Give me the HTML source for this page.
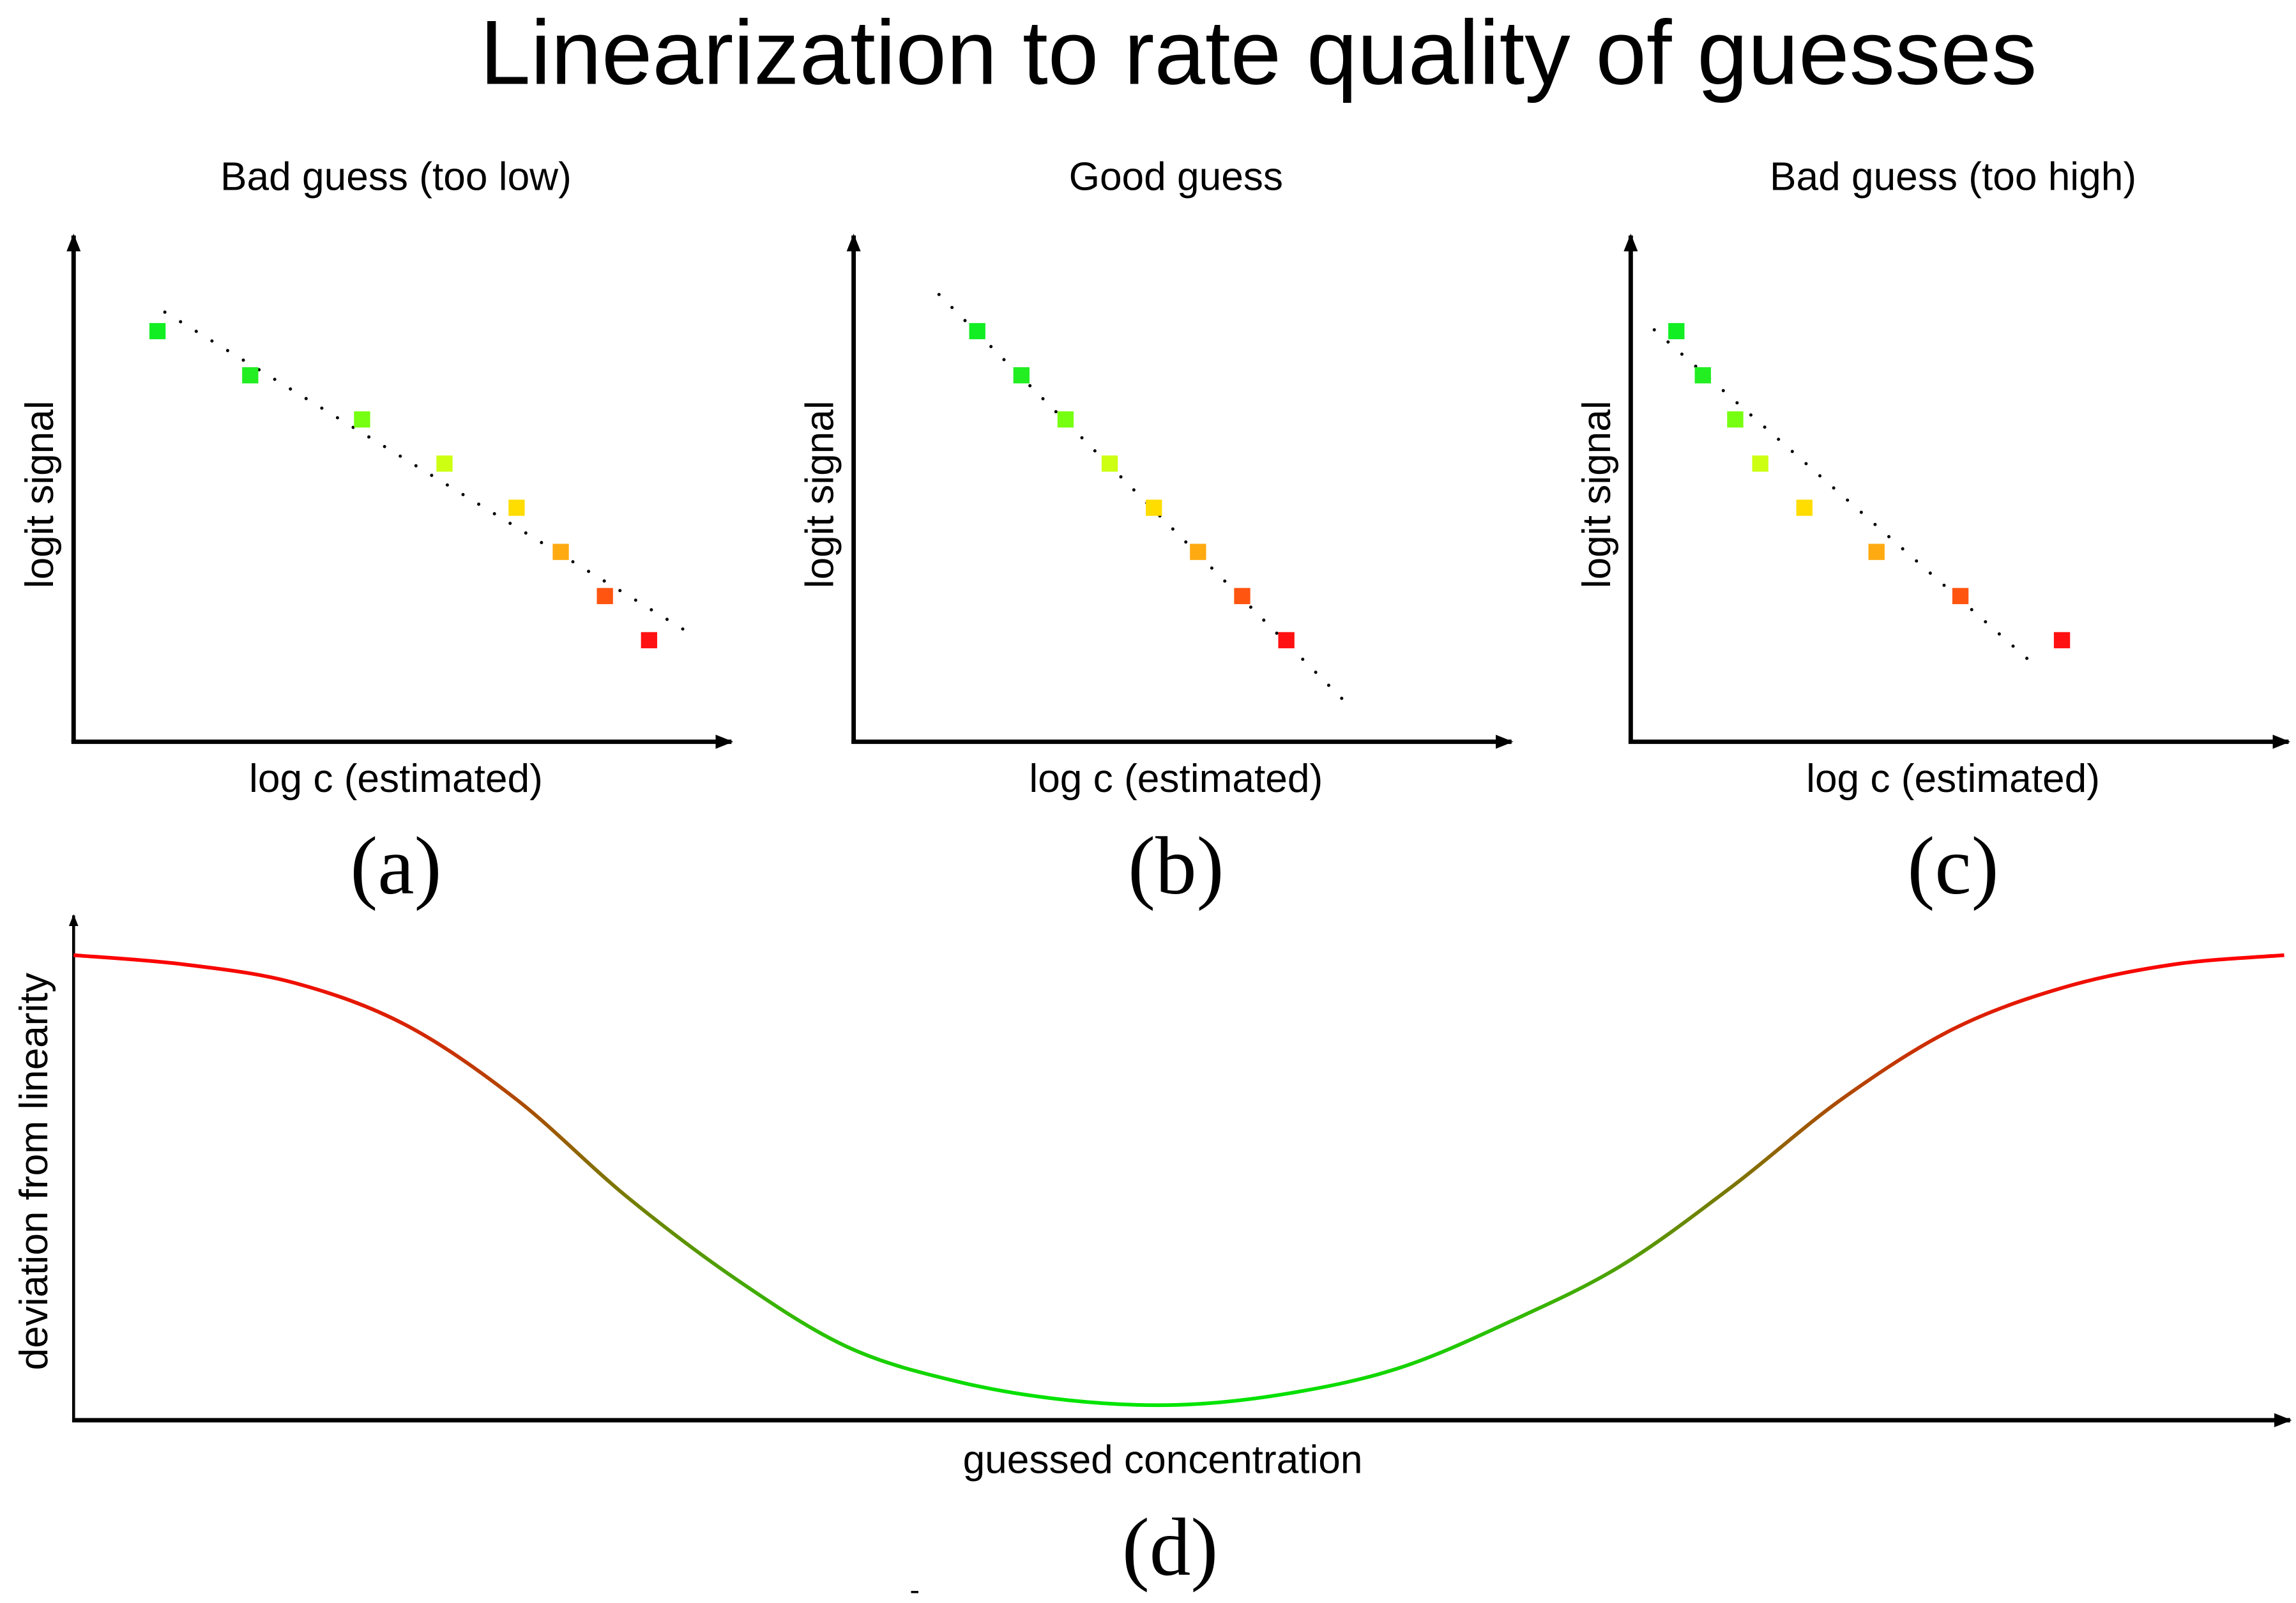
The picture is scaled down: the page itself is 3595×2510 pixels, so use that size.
<!DOCTYPE html>
<html><head><meta charset="utf-8"><style>
html,body{margin:0;padding:0;background:#fff;}
svg{display:block;}
text{font-family:"Liberation Sans",sans-serif;fill:#000;}
.serif{font-family:"Liberation Serif",serif;}
</style></head><body>
<svg id="fig" xmlns="http://www.w3.org/2000/svg" width="3595" height="2510" viewBox="0 0 1560 1089.2">
<defs>
<marker id="arr" viewBox="0 0 10 10" refX="9" refY="5" markerWidth="4" markerHeight="4" orient="auto"><path d="M0,1 L10,5 L0,9 z" fill="#000"/></marker>
<linearGradient id="grad" gradientUnits="userSpaceOnUse" x1="0" y1="649" x2="0" y2="955">
<stop offset="0" stop-color="#ff0000"/><stop offset="1" stop-color="#00e600"/></linearGradient>
</defs>
<text x="855" y="57" font-size="62" text-anchor="middle">Linearization to rate quality of guesses</text>
<g id="panels"></g>
<g id="paneld"></g>
<rect x="619" y="1081" width="5" height="1.5" fill="#000"/>
</svg>
<script>
// Panel data
const panelTitles = ["Bad guess (too low)", "Good guess", "Bad guess (too high)"];
const panelLetters = ["(a)", "(b)", "(c)"];
const pointColors = ["#11ee22","#22ee22","#77ff11","#ccff11","#ffdd00","#ffaa11","#ff5511","#ff1111"];
const signalValues = [8, 7, 6, 5, 4, 3, 2, 1];
const logcA = [1.14, 2.4, 3.92, 5.04, 6.02, 6.62, 7.22, 7.82];
const logcB = [1.68, 2.28, 2.88, 3.48, 4.08, 4.68, 5.28, 5.88];
const logcC = [0.62, 0.98, 1.42, 1.76, 2.36, 3.34, 4.48, 5.86];
const fitA = [[1.24, 8.43], [8.36, 1.17]];
const fitB = [[1.16, 8.83], [6.64, -0.33]];
const fitC = [[0.32, 8.03], [5.56, 0.33]];
// Panel d data
const guessX = [0,0.05,0.1,0.15,0.2,0.25,0.3,0.35,0.4,0.45,0.5,0.55,0.6,0.65,0.7,0.75,0.8,0.85,0.9,0.95,1.0];
const deviation = [1.0,0.98,0.94,0.85,0.69,0.48,0.30,0.155,0.08,0.04,0.03,0.055,0.11,0.21,0.33,0.5,0.69,0.84,0.93,0.98,1.0];

const NS = "http://www.w3.org/2000/svg";
function mk(tag, attrs, parent) {
  const e = document.createElementNS(NS, tag);
  for (const k in attrs) e.setAttribute(k, attrs[k]);
  parent.appendChild(e);
  return e;
}
const panelsG = document.getElementById("panels");
const origins = [50, 580, 1108];
const xsets = [logcA, logcB, logcC];
const fits = [fitA, fitB, fitC];
origins.forEach((x0, p) => {
  const g = mk("g", {}, panelsG);
  
  
  const cx = x0 + 219;
  const sx = v => x0 + 50 * v;
  const sy = v => 465 - 30 * v;
  const t = mk("text", {x: cx, y: 129, "font-size": 27, "text-anchor": "middle"}, g);
  t.textContent = panelTitles[p];
  
  
  const ya = mk("line", {x1: x0, y1: 505, x2: x0, y2: 160, stroke: "#000", "stroke-width": 3, "marker-end": "url(#arr)"}, g);
  
  
  const xa = mk("line", {x1: x0 - 1.5, y1: 504, x2: x0 + 447, y2: 504, stroke: "#000", "stroke-width": 3, "marker-end": "url(#arr)"}, g);
  
  
  const yl = mk("text", {x: 0, y: 0, "font-size": 27, "text-anchor": "middle", transform: `translate(${x0 - 14},336) rotate(-90)`}, g);
  yl.textContent = "logit signal";
  
  
  const xl = mk("text", {x: cx, y: 538, "font-size": 27, "text-anchor": "middle"}, g);
  xl.textContent = "log c (estimated)";
  
  
  const lt = mk("text", {x: cx, y: 607, "font-size": 56, "text-anchor": "middle", class: "serif"}, g);
  lt.textContent = panelLetters[p];
  
  
  const f = fits[p];
  const fl = mk("line", {x1: sx(f[0][0]), y1: sy(f[0][1]), x2: sx(f[1][0]), y2: sy(f[1][1]), stroke: "#000", "stroke-width": 2.2, "stroke-dasharray": "0 12.5", "stroke-linecap": "round"}, g);
  
  
  xsets[p].forEach((v, i) => {
    const r = mk("rect", {x: sx(v) - 5.5, y: sy(signalValues[i]) - 5.5, width: 11, height: 11, fill: pointColors[i]}, g);
    
    
  });
});

// Panel d
const gd = document.getElementById("paneld");


const dx = v => 50 + 1502 * v;
const dy = v => 964 - 315 * v;
const ya = mk("line", {x1: 50, y1: 966, x2: 50, y2: 622, stroke: "#000", "stroke-width": 2, "marker-end": "url(#arr)"}, gd);


const xa = mk("line", {x1: 49, y1: 965, x2: 1556, y2: 965, stroke: "#000", "stroke-width": 3, "marker-end": "url(#arr)"}, gd);


const pts = guessX.map((v, i) => [dx(v), dy(deviation[i])]);
let d = `M${pts[0][0]},${pts[0][1]}`;
for (let i = 0; i < pts.length - 1; i++) {
  const p0 = pts[Math.max(0, i - 1)], p1 = pts[i], p2 = pts[i + 1], p3 = pts[Math.min(pts.length - 1, i + 2)];
  const c1 = [p1[0] + (p2[0] - p0[0]) / 6, p1[1] + (p2[1] - p0[1]) / 6];
  const c2 = [p2[0] - (p3[0] - p1[0]) / 6, p2[1] - (p3[1] - p1[1]) / 6];
  d += ` C${c1[0]},${c1[1]} ${c2[0]},${c2[1]} ${p2[0]},${p2[1]}`;
}
const curve = mk("path", {d: d, fill: "none", stroke: "url(#grad)", "stroke-width": 2.5}, gd);


const yl = mk("text", {x: 0, y: 0, "font-size": 27, "text-anchor": "middle", transform: "translate(32,796) rotate(-90)"}, gd);
yl.textContent = "deviation from linearity";


const xl = mk("text", {x: 790, y: 1001, "font-size": 27, "text-anchor": "middle"}, gd);
xl.textContent = "guessed concentration";


const lt = mk("text", {x: 795, y: 1070, "font-size": 56, "text-anchor": "middle", class: "serif"}, gd);
lt.textContent = "(d)";


</script>
</body></html>
